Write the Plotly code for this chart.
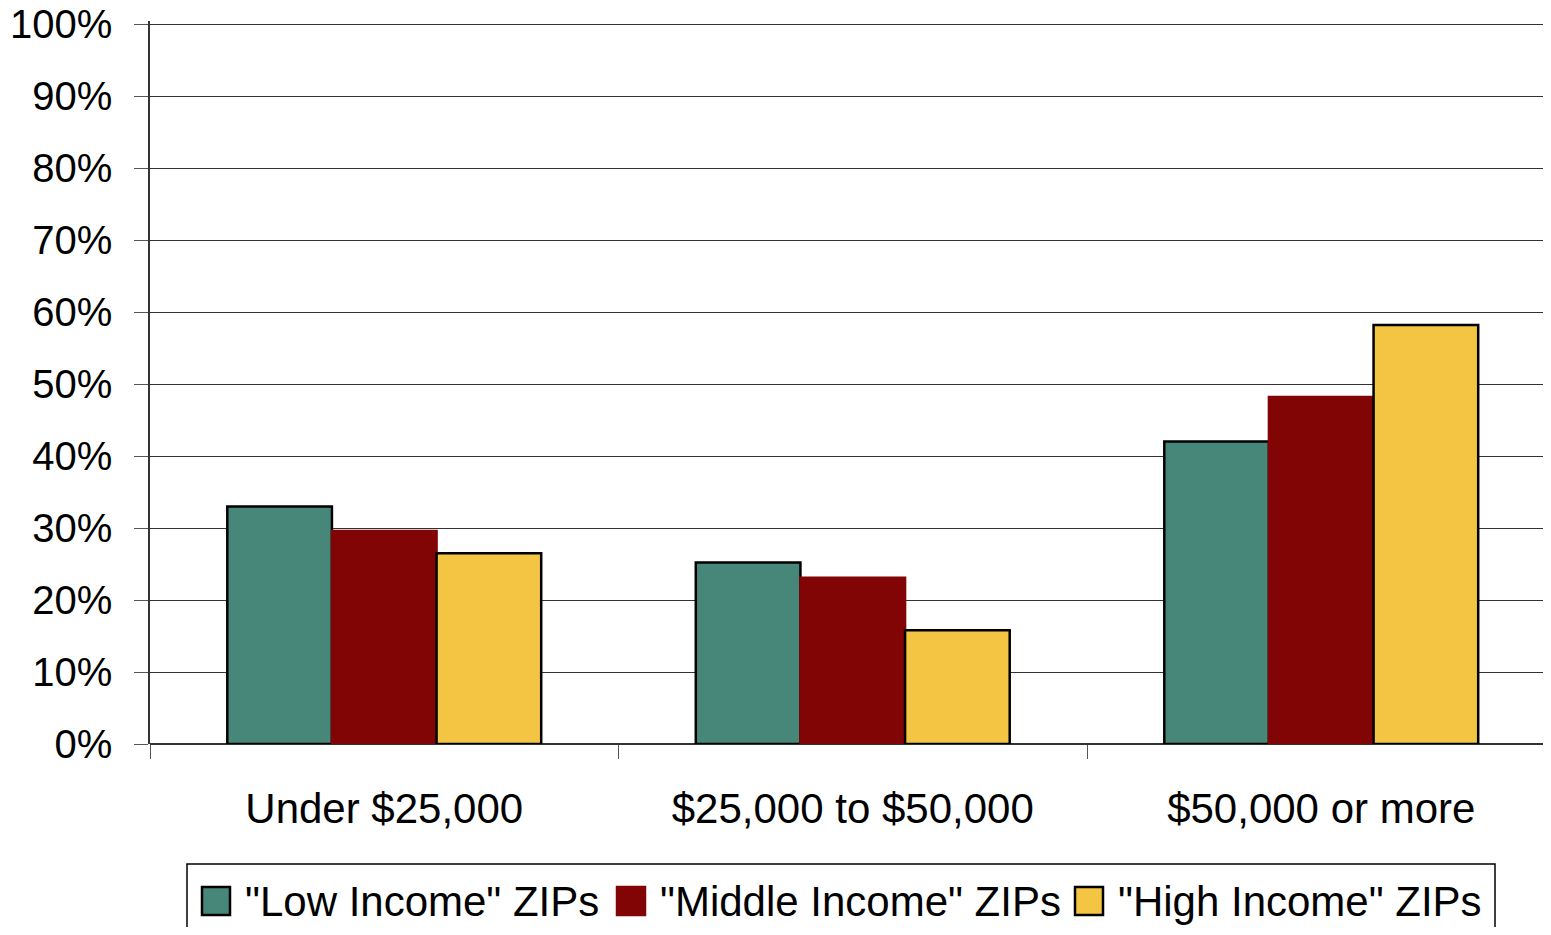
import plotly.graph_objects as go

categories = ["Under $25,000", "$25,000 to $50,000", "$50,000 or more"]
series_names = ['"Low Income" ZIPs', '"Middle Income" ZIPs', '"High Income" ZIPs']
low_income = [0.33, 0.252, 0.42]
middle_income = [0.296, 0.231, 0.482]
high_income = [0.265, 0.158, 0.582]
y_tickvals = [0, 0.1, 0.2, 0.3, 0.4, 0.5, 0.6, 0.7, 0.8, 0.9, 1.0]
y_ticktext = ["0%", "10%", "20%", "30%", "40%", "50%", "60%", "70%", "80%", "90%", "100%"]

fills = ["#47877A", "#820505", "#F4C542"]
outlines = ["#000000", "#820505", "#000000"]

FONT = "Arial, Liberation Sans, sans-serif"

# page body has an 8px margin, so the figure is sized to fit inside it
OFF = 8
PX_PER_UNIT = 720          # pixels per 100% in the reference
TOP_PAD = 3                # keep the 100% gridline just inside the plot area
W, H = 1551 - 2 * OFF, 935 - 2 * OFF
ML, MR = 150 - OFF, 0
MT = (744 - PX_PER_UNIT - TOP_PAD) - OFF
MB = H - (744 - OFF)
PW, PH = W - ML - MR, H - MT - MB
CAT_W = 468.5  # pixel width of one category in the reference
x_range = [-0.5, -0.5 + PW / CAT_W]
y_range = [0, PH / PX_PER_UNIT]


def px_x(p):
    return (p - OFF - ML) / PW


def px_y(p):
    return (H - MB - (p - OFF)) / PH


fig = go.Figure()
for name, vals, fc, lc in zip(series_names, [low_income, middle_income, high_income], fills, outlines):
    fig.add_trace(go.Bar(
        x=categories, y=vals, name=name, showlegend=False,
        marker=dict(color=fc, line=dict(color=lc, width=2.5)),
    ))

# custom legend (box, swatches, labels)
shapes = [dict(type="rect", xref="paper", yref="paper",
               x0=px_x(187), x1=px_x(1495), y0=px_y(945), y1=px_y(864),
               line=dict(color="black", width=1.5), fillcolor="white", layer="below")]
annotations = []
swatch_x = [202, 617, 1075]
for sx, name, fc, lc in zip(swatch_x, series_names, fills, outlines):
    shapes.append(dict(type="rect", xref="paper", yref="paper",
                       x0=px_x(sx), x1=px_x(sx + 28), y0=px_y(915), y1=px_y(887),
                       line=dict(color=lc, width=2.5), fillcolor=fc))
    annotations.append(dict(xref="paper", yref="paper", x=px_x(sx + 41), y=px_y(901),
                            xanchor="left", yanchor="middle", showarrow=False, text=name,
                            font=dict(family=FONT, size=42, color="black")))

fig.update_layout(
    width=W, height=H,
    margin=dict(l=ML, r=MR, t=MT, b=MB, autoexpand=False),
    paper_bgcolor="white", plot_bgcolor="white",
    barmode="group", bargap=0.33, bargroupgap=0,
    font=dict(family=FONT, size=40, color="black"),
    showlegend=False,
    shapes=shapes, annotations=annotations,
    xaxis=dict(
        range=x_range,
        showline=False, showgrid=False, zeroline=False, automargin=False,
        ticks="outside", tickson="boundaries", ticklen=14, tickcolor="#555",
        ticklabelstandoff=36,
        tickfont=dict(family=FONT, size=42, color="black"),
    ),
    yaxis=dict(
        range=y_range, tickvals=y_tickvals, ticktext=y_ticktext, automargin=False,
        ticklabeloverflow="allow",
        showgrid=True, gridcolor="#333", gridwidth=1,
        showline=True, linecolor="#333", linewidth=1.5,
        ticks="outside", ticklen=14, tickcolor="#555",
        ticklabelstandoff=14,
        zeroline=True, zerolinecolor="#333", zerolinewidth=1.5,
        tickfont=dict(family=FONT, size=40, color="black"),
    ),
)

fig.write_html("out.html")
